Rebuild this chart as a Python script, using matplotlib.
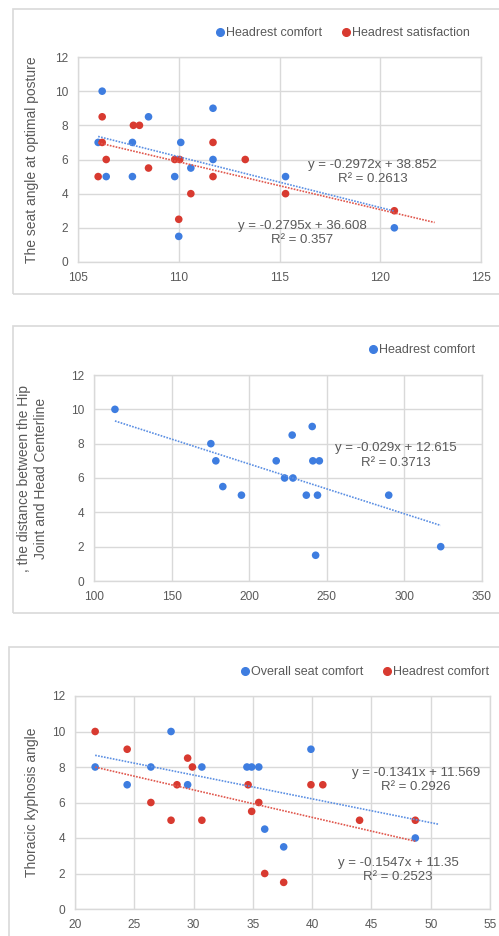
import matplotlib
matplotlib.use("Agg")
import matplotlib.pyplot as plt
from matplotlib.lines import Line2D
from matplotlib.patches import Rectangle
import numpy as np

plt.rcParams['font.family'] = ['Liberation Sans', 'DejaVu Sans']

# ---------------- data ----------------
# Panel 1
p1_blue_x = [106.2, 106.0, 106.4, 107.7, 107.7, 108.5, 109.8, 110.1, 110.0, 110.6, 111.7, 111.7, 115.3, 120.7]
p1_blue_y = [10, 7, 5, 7, 5, 8.5, 5, 7, 1.5, 5.5, 9, 6, 5, 2]
p1_red_x = [106.2, 106.2, 106.4, 106.0, 107.75, 108.05, 108.5, 109.8, 110.05, 110.0, 110.6, 111.7, 111.7, 113.3, 115.3, 120.7]
p1_red_y = [8.5, 7, 6, 5, 8, 8, 5.5, 6, 6, 2.5, 4, 7, 5, 6, 4, 3]
p1_blue_fit = (-0.2972, 38.852, 0.2613)
p1_red_fit = (-0.2795, 36.608, 0.357)
p1_labels = ["Headrest comfort", "Headrest satisfaction"]
p1_ylabel = "The seat angle at optimal posture"
p1_xticks = [105, 110, 115, 120, 125]

# Panel 2
p2_x = [113.5, 175.3, 178.5, 183.0, 195.0, 217.4, 222.8, 228.2, 227.7, 240.6, 241.0, 245.2, 236.8, 244.0, 242.8, 289.9, 323.4]
p2_y = [10, 8, 7, 5.5, 5, 7, 6, 6, 8.5, 9, 7, 7, 5, 5, 1.5, 5, 2]
p2_fit = (-0.029, 12.615, 0.3713)
p2_labels = ["Headrest comfort"]
p2_ylabel = ", the distance between the Hip\nJoint and Head Centerline"
p2_xticks = [100, 150, 200, 250, 300, 350]

# Panel 3
p3_blue_x = [21.7, 24.4, 26.4, 28.1, 29.5, 30.7, 34.5, 34.9, 35.5, 36.0, 37.6, 39.9, 48.7]
p3_blue_y = [8, 7, 8, 10, 7, 8, 8, 8, 8, 4.5, 3.5, 9, 4]
p3_red_x = [21.7, 24.4, 26.4, 28.1, 28.6, 29.5, 29.9, 30.7, 34.6, 34.9, 35.5, 36.0, 37.6, 39.9, 40.9, 44.0, 48.7]
p3_red_y = [10, 9, 6, 5, 7, 8.5, 8, 5, 7, 5.5, 6, 2, 1.5, 7, 7, 5, 5]
p3_blue_fit = (-0.1341, 11.569, 0.2926)
p3_red_fit = (-0.1547, 11.35, 0.2523)
p3_labels = ["Overall seat comfort", "Headrest comfort"]
p3_ylabel = "Thoracic kyphosis angle"
p3_xticks = [20, 25, 30, 35, 40, 45, 50, 55]

yticks = [0, 2, 4, 6, 8, 10, 12]

# ---------------- style ----------------
W, H = 499, 936
BLUE = '#3E7DE0'
RED = '#D83A30'
BLUE_L = '#5B8FE3'
RED_L = '#E0564C'
GRID = '#D9D9D9'
TXT = '#595959'

fig = plt.figure(figsize=(W / 100, H / 100), dpi=100)


def fx(px):
    return px / W


def fy(py):
    return 1 - py / H


def box(x0, y0, x1, y1):
    fig.patches.append(Rectangle((fx(x0), fy(y1)), fx(x1 - x0), (y1 - y0) / H,
                                 transform=fig.transFigure, fill=False,
                                 edgecolor=GRID, linewidth=1.2))


def make_ax(x0, y0, x1, y1, xticks, ylabel, ylabel_x):
    ax = fig.add_axes([fx(x0), fy(y1), (x1 - x0) / W, (y1 - y0) / H])
    ax.set_xlim(xticks[0], xticks[-1])
    ax.set_ylim(0, 12)
    ax.set_xticks(xticks)
    ax.set_yticks(yticks)
    ax.grid(True, color=GRID, linewidth=1.0)
    ax.set_axisbelow(True)
    for s in ax.spines.values():
        s.set_color(GRID)
        s.set_linewidth(1.0)
    ax.tick_params(length=0, labelsize=8.6, colors=TXT, pad=7)
    ax.set_ylabel(ylabel, fontsize=10, color=TXT, linespacing=1.25)
    ax.yaxis.set_label_coords((ylabel_x - x0) / (x1 - x0), 0.5)
    return ax


def trend(ax, xs, fit, color, forward=0.0):
    m, b, _ = fit
    xx = np.array([min(xs), max(xs) + forward])
    ax.plot(xx, m * xx + b, linestyle=(0, (1, 0.8)), color=color, linewidth=1.2, zorder=4)


def eqtext(fit, cx, cy1, cy2):
    m, b, r2 = fit
    sign = '-' if m < 0 else ''
    fig.text(fx(cx), fy(cy1), f"y = {sign}{abs(m):g}x + {b:g}", ha='center', va='center',
             fontsize=9.5, color=TXT)
    fig.text(fx(cx), fy(cy2), f"R\u00b2 = {r2:g}", ha='center', va='center',
             fontsize=9.5, color=TXT)


def legend(colors, labels, cx, cy):
    handles = [Line2D([], [], marker='o', linestyle='none', color=c, markersize=5.5) for c in colors]
    fig.legend(handles, labels, loc='center', bbox_to_anchor=(fx(cx), fy(cy)), ncol=len(labels),
               frameon=False, fontsize=9, labelcolor=TXT, handletextpad=0.0,
               columnspacing=1.4, handlelength=1.0, borderaxespad=0)


# ---------------- panel 1 ----------------
box(13, 9, 560, 294)
ax1 = make_ax(78, 57, 481, 262, p1_xticks, p1_ylabel, 39)
ax1.scatter(p1_blue_x, p1_blue_y, s=30, color=BLUE, edgecolors='none', zorder=3)
ax1.scatter(p1_red_x, p1_red_y, s=30, color=RED, edgecolors='none', zorder=3)
trend(ax1, p1_blue_x, p1_blue_fit, BLUE_L)
trend(ax1, p1_red_x, p1_red_fit, RED_L, forward=2)
eqtext(p1_blue_fit, 372.5, 165, 179)
eqtext(p1_red_fit, 302, 226, 240)
legend([BLUE, RED], p1_labels, 342, 33)

# ---------------- panel 2 ----------------
box(13, 326, 560, 613)
ax2 = make_ax(94, 375, 482, 581, p2_xticks, p2_ylabel, 48)
ax2.scatter(p2_x, p2_y, s=30, color=BLUE, edgecolors='none', zorder=3)
trend(ax2, p2_x, p2_fit, BLUE_L)
eqtext(p2_fit, 395.5, 448, 463)
legend([BLUE], p2_labels, 421, 350)

# ---------------- panel 3 ----------------
box(9, 647, 560, 990)
ax3 = make_ax(75, 696, 490, 909, p3_xticks, p3_ylabel, 39)
ax3.scatter(p3_blue_x, p3_blue_y, s=30, color=BLUE, edgecolors='none', zorder=3)
ax3.scatter(p3_red_x, p3_red_y, s=30, color=RED, edgecolors='none', zorder=3)
trend(ax3, p3_blue_x, p3_blue_fit, BLUE_L, forward=2)
trend(ax3, p3_red_x, p3_red_fit, RED_L)
eqtext(p3_blue_fit, 416, 773, 787)
eqtext(p3_red_fit, 398, 863, 877)
legend([BLUE, RED], p3_labels, 364, 672)

fig.savefig("out.png", dpi=100)
